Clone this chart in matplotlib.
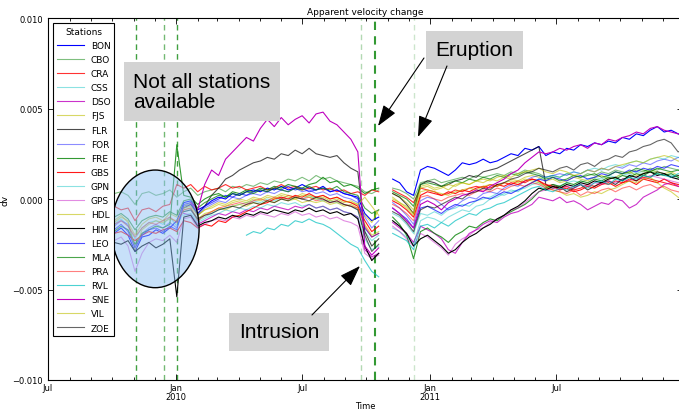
import numpy as np
import pandas as pd
import matplotlib
matplotlib.use("Agg")
import matplotlib.pyplot as plt
import matplotlib.dates as mdates
from matplotlib.patches import Ellipse
from matplotlib.ticker import FuncFormatter, FixedLocator

nan = np.nan

# dv curves sampled every 10 days, in units of 1e-3
dates = pd.date_range("2009-09-24", periods=84, freq="10D")

stations = ["BON", "CBO", "CRA", "CSS", "DSO", "FJS", "FLR", "FOR", "FRE", "GBS", "GPN",
            "GPS", "HDL", "HIM", "LEO", "MLA", "PRA", "RVL", "SNE", "VIL", "ZOE"]

BON = [-2.0, -1.9, -1.6, -2.0, -2.9, -2.1, -2.0, -1.7, -1.9, -1.6, -1.2,
       -0.2, -0.1, -0.6, -0.4, -0.1, 0.1, 0.0, 0.3, 0.2, 0.4, 0.5, 0.4, 0.6, 0.5, 0.7, 0.5, 0.6, 0.8, 0.6, 0.5,
       0.7, 0.4, 0.5, 0.3, 0.2, 0.1, -0.8, -1.2, -1.0, nan,
       1.1, 0.9, 0.4, 0.2, 1.6, 1.8, 1.7, 1.5, 1.3, 1.6, 2.0, 1.9, 2.0, 2.2, 2.0, 2.1, 2.3, 2.5, 2.4, 2.8, 2.7,
       2.9, 2.4, 2.6, 2.5, 2.8, 2.7, 3.0, 2.9, 3.1, 3.0, 3.2, 3.1, 3.4, 3.3, 3.6, 3.5, 3.8, 4.0, 3.7, 3.8, 3.6, 3.5]
CBO = [0.2, 0.3, 0.4, 0.2, -0.3, 0.3, 0.4, 0.2, 0.3, 0.5, 0.1,
       0.4, 0.6, 0.2, 0.4, 0.5, 0.6, 0.4, 0.7, 0.6, 0.8, 0.7, 0.9, 0.8, 1.0, 0.9, 1.1, 1.0, 1.2, 1.0, 1.3,
       1.1, 1.2, 1.0, 0.9, 0.8, 0.7, 0.4, 0.3, 0.5, nan,
       0.6, 0.5, 0.3, 0.0, 0.9, 1.0, 1.1, 0.9, 1.0, 1.1, 1.2, 1.1, 1.3, 1.2, 1.3, 1.4, 1.3, 1.5, 1.4, 1.6, 1.5,
       1.4, 1.2, 1.3, 1.2, 1.4, 1.3, 1.2, 1.4, 1.3, 1.5, 1.4, 1.6, 1.5, 1.4, 1.6, 1.5, 1.7, 1.6, 1.8, 1.7, 1.6, 1.5]
CRA = [-0.5, -0.4, -0.6, -0.5, -1.2, -0.6, -0.5, -0.7, -0.4, -0.3, 0.8,
       0.6, 0.8, 0.4, 0.7, 0.5, 0.6, 0.8, 0.6, 0.7, 0.5, 0.6, 0.7, 0.5, 0.6, 0.8, 0.6, 0.7, 0.5, 0.6, 0.7,
       0.5, 0.6, 0.4, 0.5, 0.3, 0.4, 0.2, 0.5, 0.4, nan,
       0.5, 0.3, 0.1, -0.2, 0.6, 0.5, 0.4, 0.2, 0.3, 0.5, 0.4, 0.6, 0.7, 0.6, 0.8, 0.7, 0.9, 0.8, 1.0, 0.9, 1.1,
       1.0, 0.7, 0.8, 0.6, 0.7, 0.5, 0.6, 0.8, 0.7, 0.9, 0.8, 1.0, 0.9, 1.1, 1.0, 1.2, 1.1, 1.0, 0.9, 0.8, 0.7, 0.6]
CSS = [-1.2, -1.4, -1.1, -1.5, -2.2, -1.6, -1.3, -1.2, -1.4, -1.0, -1.5,
       -0.7, -0.6, -1.2, -1.0, -0.8, -0.6, -0.5, -0.4, -0.3, -0.2, -0.1, -0.2, 0.0, -0.1, 0.1, 0.0, 0.1, 0.0, 0.2, 0.0,
       -0.1, -0.1, -0.2, -0.3, -0.4, -0.6, -1.8, -2.3, -2.0, nan,
       -0.8, -1.0, -1.4, -1.9, -0.8, -0.9, -0.7, -0.9, -0.6, -0.5, -0.3, -0.4, -0.1, 0.0, 0.1, 0.3, 0.2, 0.4, 0.5, 0.6, 0.8,
       0.9, 0.6, 0.8, 0.7, 0.9, 1.0, 0.9, 1.1, 1.2, 1.1, 1.3, 1.2, 1.4, 1.3, 1.5, 1.4, 1.6, 1.5, 1.4, 1.3, 1.2, 1.1]
DSO = [nan, nan, nan, nan, nan, nan, nan, nan, nan, nan, nan,
       -0.8, -0.9, -1.4, -1.2, -1.0, -0.8, -0.9, -0.7, -0.8, -0.6, -0.7, -0.5, -0.6, -0.4, -0.5, -0.6, -0.4, -0.5, -0.3, -0.5,
       -0.4, -0.6, -0.5, -0.7, -0.8, -1.0, -2.8, -3.2, -3.0, nan,
       -1.3, -1.6, -1.9, -2.4, -1.5, -1.7, -1.9, -2.2, -2.8, -3.0, -2.4, -1.9, -1.7, -1.4, -1.2, -1.3, -1.0, -0.8, -0.7, -0.5, -0.3,
       0.1, 0.0, -0.1, 0.1, -0.2, -0.1, -0.3, -0.6, -0.4, -0.2, -0.3, 0.0, -0.1, -0.5, -0.3, 0.1, 0.3, 0.5, 0.8, 0.9, 0.7, 0.6]
FJS = [-1.0, -1.2, -0.9, -1.3, -2.0, -1.4, -1.1, -1.0, -1.2, -0.8, -1.0,
       -0.4, -0.2, -0.9, -0.6, -0.4, -0.2, -0.3, -0.1, 0.0, -0.1, 0.1, 0.0, 0.2, 0.1, 0.3, 0.2, 0.1, 0.3, 0.2, 0.1,
       0.2, 0.0, 0.1, -0.1, -0.2, -0.3, -0.9, -1.3, -0.6, nan,
       0.3, 0.1, -0.2, -0.6, 0.7, 0.8, 0.6, 0.7, 0.5, 0.8, 0.9, 0.8, 1.0, 0.9, 1.1, 1.0, 1.2, 1.1, 1.0, 1.2, 1.3,
       1.2, 1.0, 1.1, 0.9, 1.0, 1.2, 1.1, 1.0, 1.2, 1.3, 1.1, 1.2, 1.4, 1.5, 1.3, 1.4, 1.6, 1.5, 1.4, 1.5, 1.3, 1.2]
FLR = [nan, nan, nan, nan, nan, nan, nan, nan, nan, nan, nan,
       -0.5, -0.3, -0.8, -0.4, 0.2, 0.6, 1.1, 1.3, 1.6, 1.8, 2.0, 2.1, 2.3, 2.2, 2.5, 2.4, 2.7, 2.5, 2.8, 2.5,
       2.4, 2.3, 2.4, 2.0, 1.7, 1.5, -1.8, -2.6, -2.2, nan,
       0.3, 0.1, -0.3, -0.8, 0.8, 1.0, 0.9, 0.7, 0.8, 1.0, 1.1, 1.3, 1.2, 1.5, 1.6, 1.7, 1.9, 2.1, 2.3, 2.5, 2.7,
       2.9, 0.8, 0.6, 0.7, 0.4, 0.6, 0.8, 0.5, 0.7, 0.9, 1.0, 0.8, 1.1, 1.2, 1.0, 1.3, 1.2, 1.5, 1.4, 1.2, 1.3, 1.2]
FOR = [-1.3, -1.5, -1.2, -1.4, -2.6, -1.9, -1.6, -1.4, -1.6, -1.3, -1.6,
       -0.4, -0.3, -0.9, -0.5, -0.3, -0.1, -0.2, 0.1, 0.0, 0.2, 0.3, 0.2, 0.4, 0.3, 0.5, 0.4, 0.6, 0.4, 0.5, 0.3,
       0.4, 0.2, 0.3, 0.1, 0.0, -0.2, -1.0, -1.6, -1.2, nan,
       -0.2, -0.5, -0.9, -1.4, -0.1, 0.1, 0.0, -0.3, -0.6, -0.4, -0.1, 0.1, 0.0, 0.3, 0.4, 0.3, 0.6, 0.8, 0.7, 1.0, 1.2,
       1.3, 1.2, 1.3, 1.4, 1.3, 1.5, 1.4, 1.6, 1.5, 1.7, 1.6, 1.8, 1.7, 1.9, 1.8, 2.0, 1.9, 2.1, 2.2, 2.1, 2.3, 2.2]
FRE = [-1.6, -1.8, -1.5, -1.7, -2.5, -1.9, -1.7, -1.5, -1.6, -1.4, 3.0,
       0.2, 0.1, -0.3, 0.0, 0.2, 0.3, 0.1, 0.4, 0.3, 0.5, 0.4, 0.6, 0.5, 0.7, 0.6, 0.8, 0.7, 0.6, 0.8, 0.9,
       1.2, 0.9, 1.0, 0.7, 0.8, 0.6, 0.3, 0.5, 0.6, nan,
       -1.0, -1.4, -2.0, -3.3, -1.8, -1.6, -1.9, -2.1, -2.4, -2.0, -1.8, -1.5, -1.6, -1.3, -1.1, -1.2, -0.9, -0.7, -0.5, -0.3, 0.0,
       0.4, 0.6, 0.8, 0.7, 0.9, 0.8, 1.0, 0.9, 1.1, 1.0, 1.2, 1.1, 1.3, 1.2, 1.4, 1.3, 1.5, 1.4, 1.3, 1.4, 1.2, 1.1]
GBS = [-1.7, -1.9, -1.8, -2.0, -2.3, -2.0, -1.8, -1.9, -1.7, -1.6, -1.8,
       -1.2, -1.3, -1.6, -1.4, -1.5, -1.2, -1.3, -1.0, -0.9, -0.7, -0.5, -0.3, -0.2, 0.0, 0.1, 0.0, 0.2, 0.1, 0.3, 0.1,
       0.2, 0.0, 0.1, -0.1, -0.2, -0.4, -1.2, -1.8, -1.5, nan,
       -0.1, -0.3, -0.6, -1.0, 0.2, 0.4, 0.3, 0.2, 0.4, 0.3, 0.5, 0.4, 0.6, 0.7, 0.6, 0.8, 0.7, 0.9, 0.8, 1.0, 1.1,
       1.0, 0.8, 0.7, 0.5, 0.6, 0.4, 0.5, 0.7, 0.6, 0.8, 0.9, 0.7, 0.9, 1.0, 0.8, 1.1, 1.0, 0.9, 1.1, 0.9, 0.8, 0.7]
GPN = [nan, nan, nan, nan, nan, nan, nan, nan, nan, nan, nan,
       -0.9, -0.8, -1.3, -1.1, -0.9, -0.8, -0.6, -0.7, -0.5, -0.6, -0.4, -0.5, -0.3, -0.4, -0.2, -0.3, -0.2, -0.4, -0.3, -0.5,
       -0.4, -0.6, -0.5, -0.7, -0.8, -1.0, -2.2, -2.8, -2.6, nan,
       -1.6, -1.8, -2.1, -2.5, -1.2, -1.0, -1.1, -1.3, -1.0, -0.8, -0.6, -0.7, -0.4, -0.3, 0.0, 0.1, 0.3, 0.5, 0.4, 0.7, 0.9,
       1.1, 1.2, 1.3, 1.2, 1.4, 1.5, 1.4, 1.6, 1.7, 1.6, 1.8, 1.9, 1.8, 2.0, 2.1, 2.0, 2.2, 2.3, 2.2, 2.4, 2.3, 2.2]
GPS = [-2.0, -2.3, -2.1, -2.6, -4.0, -3.0, -2.4, -2.2, -2.3, -2.0, -2.4,
       -1.1, -1.0, -1.6, -1.4, -1.2, -1.1, -1.2, -1.0, -1.1, -0.9, -1.0, -0.8, -0.9, -1.0, -0.8, -0.9, -0.7, -0.9, -0.8, -1.0,
       -0.9, -1.1, -1.0, -1.2, -1.3, -1.5, -3.0, -3.3, -3.1, nan,
       -1.5, -1.8, -2.2, -2.6, -1.9, -2.1, -2.4, -2.7, -3.1, -2.5, -2.2, -2.0, -1.7, -1.6, -1.3, -1.1, -0.9, -0.6, -0.5, -0.2, 0.1,
       0.4, 0.5, 0.6, 0.5, 0.7, 0.6, 0.8, 0.7, 0.9, 0.8, 1.0, 0.9, 1.1, 1.0, 1.2, 1.1, 1.3, 1.2, 1.1, 1.0, 0.9, 0.8]
HDL = [-1.1, -1.3, -1.0, -1.2, -2.8, -1.7, -1.4, -1.2, -1.3, -1.1, -1.2,
       -0.6, -0.5, -1.1, -0.8, -0.7, -0.5, -0.6, -0.4, -0.3, -0.4, -0.2, -0.3, -0.1, -0.2, 0.0, -0.1, 0.0, -0.2, -0.1, -0.2,
       -0.1, -0.3, -0.2, -0.4, -0.3, -0.5, -1.4, -2.0, -1.8, nan,
       0.1, -0.2, -0.5, -0.9, 0.4, 0.5, 0.4, 0.3, 0.2, 0.4, 0.5, 0.6, 0.5, 0.7, 0.8, 0.7, 0.9, 1.0, 0.9, 1.1, 1.0,
       0.9, 0.7, 0.5, 0.4, 0.2, 0.3, 0.1, 0.2, 0.4, 0.3, 0.5, 0.6, 0.8, 1.0, 0.9, 1.1, 1.2, 0.9, 0.6, 0.4, 0.1, -0.1]
HIM = [-2.2, -2.4, -2.5, -2.3, -2.9, -2.6, -2.4, -2.7, -2.5, -2.2, -5.4,
       -1.0, -0.9, -1.5, -1.3, -1.2, -1.0, -1.1, -0.9, -1.0, -0.8, -0.9, -0.7, -0.8, -0.6, -0.7, -0.8, -0.6, -0.7, -0.5, -0.7,
       -0.6, -0.8, -0.7, -0.9, -0.8, -1.1, -2.6, -3.4, -3.0, nan,
       -1.2, -1.5, -1.9, -2.6, -2.2, -2.0, -2.3, -2.6, -3.0, -2.8, -2.4, -2.1, -1.9, -1.6, -1.4, -1.1, -0.9, -0.6, -0.4, -0.1, 0.3,
       0.6, 0.5, 0.7, 0.6, 0.8, 0.7, 0.9, 0.8, 1.0, 0.9, 1.1, 1.2, 1.0, 1.3, 1.2, 1.4, 1.5, 1.3, 1.4, 1.2, 1.1, 1.0]
LEO = [-1.5, -1.7, -1.4, -1.8, -2.7, -2.0, -1.7, -1.6, -1.8, -1.5, -1.7,
       -0.3, -0.2, -0.8, -0.4, -0.2, 0.0, 0.2, 0.1, 0.3, 0.2, 0.4, 0.5, 0.4, 0.6, 0.5, 0.7, 0.5, 0.6, 0.4, 0.5,
       0.6, 0.4, 0.5, 0.3, 0.2, 0.0, -1.6, -2.1, -1.9, nan,
       -0.5, -0.8, -1.1, -1.6, -0.5, -0.4, -0.6, -0.8, -0.5, -0.3, -0.4, -0.2, -0.1, 0.1, 0.0, 0.2, 0.4, 0.3, 0.5, 0.7, 0.9,
       1.1, 1.0, 1.2, 1.1, 1.0, 1.2, 1.3, 1.1, 1.2, 1.4, 1.3, 1.5, 1.4, 1.6, 1.5, 1.7, 1.6, 1.8, 1.7, 1.9, 1.8, 1.7]
MLA = [-0.9, -1.0, -0.8, -1.1, -1.7, -1.2, -1.0, -0.9, -1.0, -0.7, -0.9,
       -0.1, 0.0, -0.5, -0.2, 0.0, 0.2, 0.1, 0.3, 0.2, 0.4, 0.3, 0.5, 0.4, 0.6, 0.5, 0.4, 0.6, 0.5, 0.7, 0.5,
       0.6, 0.5, 0.7, 0.4, 0.3, 0.2, -0.5, -0.8, -0.6, nan,
       0.4, 0.2, 0.0, -0.4, 0.8, 0.9, 0.8, 0.7, 0.9, 1.0, 0.9, 1.1, 1.0, 1.2, 1.1, 1.3, 1.2, 1.4, 1.3, 1.5, 1.4,
       1.3, 1.1, 1.2, 1.0, 1.1, 1.3, 1.2, 1.3, 1.4, 1.2, 1.3, 1.5, 1.4, 1.5, 1.7, 1.6, 1.5, 1.7, 1.6, 1.5, 1.6, 1.4]
PRA = [-1.3, -1.4, -1.2, -1.5, -2.1, -1.6, -1.3, -1.4, -1.2, -1.0, -1.3,
       -0.6, -0.5, -1.2, -0.9, -0.7, -0.5, -0.4, -0.3, -0.2, -0.3, -0.1, 0.0, -0.1, 0.1, 0.0, 0.2, 0.1, 0.0, 0.1, -0.1,
       0.0, -0.2, -0.1, -0.3, -0.4, -0.5, -1.5, -2.1, -1.9, nan,
       -0.3, -0.5, -0.8, -1.2, 0.1, 0.2, 0.0, -0.1, 0.1, 0.2, 0.3, 0.2, 0.4, 0.5, 0.4, 0.6, 0.5, 0.7, 0.8, 0.7, 0.9,
       0.8, 0.6, 0.5, 0.4, 0.3, 0.5, 0.2, 0.4, 0.3, 0.5, 0.6, 0.4, 0.6, 0.7, 0.5, 0.7, 0.8, 0.6, 0.7, 0.5, 0.4, 0.3]
RVL = [nan, nan, nan, nan, nan, nan, nan, nan, nan, nan, nan,
       nan, nan, nan, nan, nan, nan, nan, nan, nan, -2.0, -1.8, -1.9, -1.6, -1.7, -1.4, -1.5, -1.2, -1.3, -1.1, -1.3,
       -1.4, -1.6, -1.9, -2.2, -2.5, -2.7, -3.4, -4.0, -4.3, nan,
       -1.9, -2.1, -2.3, -2.8, -1.5, -1.4, -1.6, -1.3, -1.5, -1.2, -1.0, -0.8, -0.9, -0.6, -0.5, -0.3, -0.2, 0.0, 0.2, 0.4, 0.6,
       0.7, 0.5, 0.4, 0.6, 0.5, 0.7, 0.8, 0.6, 0.9, 1.0, 0.8, 1.1, 1.0, 1.2, 1.1, 1.3, 1.2, 1.4, 1.3, 1.2, 1.4, 1.3]
SNE = [nan, nan, nan, nan, nan, nan, nan, nan, nan, nan, nan,
       nan, -0.2, -0.6, 0.8, 1.6, 1.3, 2.2, 2.6, 3.0, 3.4, 3.2, 3.9, 4.4, 4.0, 4.5, 4.1, 4.4, 4.6, 4.2, 4.7,
       4.8, 4.3, 4.1, 3.7, 3.3, 2.6, -2.6, -3.1, -2.7, nan,
       -0.5, -0.8, -1.2, -1.6, -0.3, -0.1, -0.3, -0.6, -0.2, 0.0, 0.2, 0.3, 0.5, 0.4, 0.7, 0.9, 1.1, 1.4, 1.6, 2.0, 2.3,
       2.6, 2.5, 2.6, 2.8, 2.7, 2.9, 3.0, 2.8, 3.1, 3.0, 3.3, 3.2, 3.4, 3.5, 3.7, 3.6, 3.9, 4.0, 3.8, 3.7, 3.6, 3.4]
VIL = [nan, nan, nan, nan, nan, nan, nan, nan, nan, nan, nan,
       -0.5, -0.4, -0.9, -0.6, -0.5, -0.3, -0.4, -0.2, -0.1, -0.2, 0.0, -0.1, 0.1, 0.0, 0.2, 0.1, 0.0, 0.2, 0.1, 0.0,
       0.1, -0.1, 0.0, -0.2, -0.1, -0.3, 0.1, -0.4, -0.9, nan,
       0.0, -0.2, -0.4, -0.8, 0.6, 0.7, 0.5, 0.6, 0.8, 0.7, 0.9, 0.8, 1.0, 1.1, 1.0, 1.2, 1.3, 1.2, 1.4, 1.5, 1.6,
       1.7, 1.5, 1.4, 1.6, 1.5, 1.3, 1.4, 1.6, 1.5, 1.7, 1.6, 1.8, 1.9, 2.0, 2.1, 2.0, 2.2, 2.3, 2.4, 2.3, 2.1, 2.0]
ZOE = [nan, nan, nan, nan, nan, nan, nan, nan, nan, nan, nan,
       -0.7, -0.6, -1.1, -0.9, -0.8, -0.6, -0.5, -0.4, -0.5, -0.3, -0.2, -0.3, -0.1, -0.2, 0.0, -0.1, 0.1, 0.0, -0.1, 0.1,
       0.0, -0.2, -0.1, -0.3, -0.4, -0.6, -2.0, -2.9, -2.5, nan,
       -0.7, -0.9, -1.3, -1.8, -0.6, -0.4, -0.5, -0.3, -0.1, 0.1, 0.0, 0.3, 0.4, 0.6, 0.5, 0.8, 0.9, 1.1, 1.2, 1.4, 1.5,
       1.7, 1.6, 1.5, 1.7, 1.8, 1.6, 1.9, 2.0, 1.8, 2.1, 2.2, 2.4, 2.3, 2.6, 2.7, 2.9, 3.0, 3.2, 3.3, 3.1, 2.6, 2.8]

series = [BON, CBO, CRA, CSS, DSO, FJS, FLR, FOR, FRE, GBS, GPN,
          GPS, HDL, HIM, LEO, MLA, PRA, RVL, SNE, VIL, ZOE]

line_colors = ["b", "g", "r", "c", "m", "y", "k"] * 3
line_alpha = [1.0, 0.5, 0.8, 0.45, 0.8, 0.6, 0.7,
              0.45, 0.8, 0.9, 0.45, 0.45, 0.6, 1.0,
              0.7, 0.7, 0.5, 0.7, 1.0, 0.6, 0.6]

# volcanic events (eruptions and the September intrusion)
event_dates = ["2009-11-05", "2009-12-14", "2010-01-02", "2010-09-23", "2010-10-14", "2010-12-09"]
event_alpha = [0.75, 0.55, 0.75, 0.3, 0.8, 0.2]
event_width = [1.0, 1.0, 1.0, 1.0, 1.5, 1.0]

tick_dates = ["2009-07-01", "2010-01-01", "2010-07-01", "2011-01-01", "2011-07-01"]
tick_labels = ["Jul", "Jan\n2010", "Jul", "Jan\n2011", "Jul"]

fig = plt.figure(figsize=(6.79, 4.10), dpi=100)
ax = fig.add_axes([48 / 679, 1 - 381 / 410, 635 / 679, 362 / 410])

for name, vals, col, a in zip(stations, series, line_colors, line_alpha):
    ax.plot(dates, np.array(vals) * 1e-3, color=col, alpha=a, lw=0.8, label=name)

for d, a, w in zip(event_dates, event_alpha, event_width):
    ax.axvline(pd.Timestamp(d), color="g", alpha=a, lw=w, ls=(0, (4, 3)), zorder=1)

ax.set_xlim(pd.Timestamp("2009-07-01"), pd.Timestamp("2011-12-30"))
ax.set_ylim(-0.010, 0.010)

ax.xaxis.set_major_locator(FixedLocator([mdates.date2num(pd.Timestamp(d)) for d in tick_dates]))
ax.set_xticklabels(tick_labels, linespacing=1.0)
ax.xaxis.set_minor_locator(mdates.MonthLocator())
ax.set_yticks([-0.010, -0.005, 0.0, 0.005, 0.010])
ax.yaxis.set_major_formatter(FuncFormatter(lambda v, p: f"{v:.3f}".replace("-", "\u2212")))
ax.tick_params(which="both", direction="in", top=True, right=True, labelsize=6)
ax.tick_params(which="major", length=4, width=0.6)
ax.tick_params(which="minor", length=2, width=0.6)
ax.tick_params(axis="x", pad=2)
for s in ax.spines.values():
    s.set_linewidth(0.8)

ax.set_title("Apparent velocity change", fontsize=6.5, pad=3)
ax.set_xlabel("Time", fontsize=6, labelpad=0)
ax.set_ylabel("dv", fontsize=6.5, labelpad=2)

# highlight of the period with incomplete station coverage
ell = Ellipse((mdates.date2num(pd.Timestamp("2009-12-02")), -1.65e-3), width=126, height=6.5e-3,
              facecolor=(0.57, 0.76, 0.96, 0.5), edgecolor="k", lw=1.0, zorder=6)
ax.add_patch(ell)

box = dict(boxstyle="square,pad=0.45", facecolor="#d3d3d3", edgecolor="none")
ax.text(0.134, 0.797, "Not all stations\navailable", transform=ax.transAxes, fontsize=15,
        family="Liberation Sans", ha="left", va="center", linespacing=1.1, bbox=box, zorder=8)
ax.text(0.6717, 0.912, "Eruption", transform=ax.transAxes, fontsize=15,
        family="Liberation Sans", ha="center", va="center", bbox=box, zorder=8)
ax.text(0.3638, 0.1326, "Intrusion", transform=ax.transAxes, fontsize=15,
        family="Liberation Sans", ha="center", va="center", bbox=box, zorder=8)

arrow = dict(arrowstyle="-|>,head_length=1.3,head_width=0.45", color="k", lw=0.8,
             shrinkA=0, shrinkB=0, mutation_scale=10)
ax.annotate("", xy=(0.5197, 0.7017), xytext=(0.5921, 0.8895), xycoords="axes fraction",
            textcoords="axes fraction", arrowprops=arrow, zorder=8)
ax.annotate("", xy=(0.5827, 0.6713), xytext=(0.6283, 0.8674), xycoords="axes fraction",
            textcoords="axes fraction", arrowprops=arrow, zorder=8)
ax.annotate("", xy=(0.4913, 0.3149), xytext=(0.4157, 0.1796), xycoords="axes fraction",
            textcoords="axes fraction", arrowprops=arrow, zorder=8)

leg = ax.legend(title="Stations", loc="upper left", fontsize=6.5, title_fontsize=6.5,
                fancybox=False, edgecolor="k", framealpha=1, handlelength=3.0,
                borderaxespad=0.55, labelspacing=0.57)
leg.get_frame().set_linewidth(0.8)
leg.set_zorder(10)

fig.savefig("out.png", dpi=100)
